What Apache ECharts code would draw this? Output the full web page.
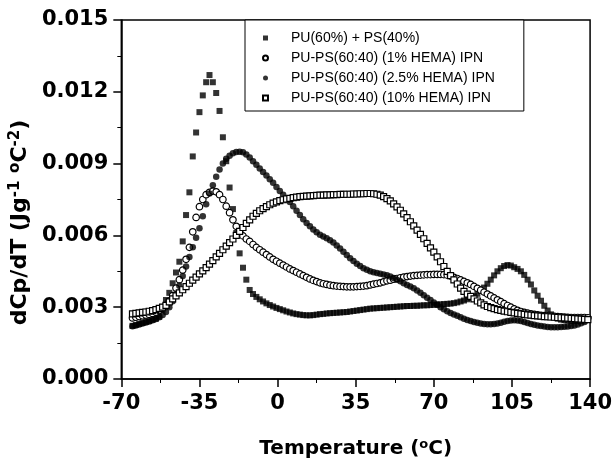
<!DOCTYPE html>
<html>
<head>
<meta charset="utf-8">
<script src="https://cdn.jsdelivr.net/npm/echarts@6/dist/echarts.min.js"></script>
<style>
  html, body { margin: 0; padding: 0; background: #fff; }
  #chart { width: 615px; height: 465px; }
</style>
</head>
<body>
<div id="chart"></div>
<script>
// temperature (oC), shared by all series
var temps = [
  -65, -63.5, -62, -60.5, -59, -57.5, -56, -54.5, -53, -51.5,
  -50, -48.5, -47, -45.5, -44, -42.5, -41, -39.5, -38, -36.5,
  -35, -33.5, -32, -30.5, -29, -27.5, -26, -24.5, -23, -21.5,
  -20, -18.5, -17, -15.5, -14, -12.5, -11, -9.5, -8, -6.5,
  -5, -3.5, -2, -0.5, 1, 2.5, 4, 5.5, 7, 8.5,
  10, 11.5, 13, 14.5, 16, 17.5, 19, 20.5, 22, 23.5,
  25, 26.5, 28, 29.5, 31, 32.5, 34, 35.5, 37, 38.5,
  40, 41.5, 43, 44.5, 46, 47.5, 49, 50.5, 52, 53.5,
  55, 56.5, 58, 59.5, 61, 62.5, 64, 65.5, 67, 68.5,
  70, 71.5, 73, 74.5, 76, 77.5, 79, 80.5, 82, 83.5,
  85, 86.5, 88, 89.5, 91, 92.5, 94, 95.5, 97, 98.5,
  100, 101.5, 103, 104.5, 106, 107.5, 109, 110.5, 112, 113.5,
  115, 116.5, 118, 119.5, 121, 122.5, 124, 125.5, 127, 128.5,
  130, 131.5, 133, 134.5, 136, 137.5, 139
]

// dCp/dT values in units of 1e-3 J g-1 oC-2
var puPs = [
  2.22, 2.26, 2.30, 2.34, 2.38, 2.42, 2.47, 2.52, 2.60, 2.90,
  3.30, 3.60, 4.00, 4.45, 4.90, 5.75, 6.85, 7.80, 9.30, 10.3,
  11.15, 11.85, 12.4, 12.7, 12.4, 11.95, 11.2, 10.1, 9.1, 8.0,
  7.1, 6.1, 5.25, 4.65, 4.15, 3.72, 3.55, 3.43, 3.33, 3.24,
  3.16, 3.09, 3.03, 2.97, 2.92, 2.87, 2.82, 2.78, 2.74, 2.71,
  2.69, 2.67, 2.66, 2.66, 2.67, 2.69, 2.71, 2.72, 2.74, 2.75,
  2.76, 2.77, 2.78, 2.79, 2.80, 2.82, 2.84, 2.86, 2.88, 2.90,
  2.92, 2.94, 2.95, 2.96, 2.97, 2.98, 2.99, 3.00, 3.01, 3.02,
  3.03, 3.04, 3.05, 3.05, 3.06, 3.06, 3.07, 3.08, 3.08, 3.09,
  3.10, 3.11, 3.12, 3.13, 3.14, 3.15, 3.17, 3.20, 3.24, 3.28,
  3.33, 3.39, 3.46, 3.56, 3.68, 3.82, 3.98, 4.15, 4.33, 4.50,
  4.63, 4.72, 4.76, 4.74, 4.67, 4.60, 4.50, 4.35, 4.15, 3.95,
  3.70, 3.48, 3.27, 3.06, 2.86, 2.70, 2.58, 2.52, 2.48, 2.46,
  2.44, 2.43, 2.42, 2.42, 2.43, 2.45
]
var hema1 = [
  2.55, 2.58, 2.61, 2.64, 2.67, 2.70, 2.74, 2.79, 2.86, 2.95,
  3.08, 3.25, 3.48, 3.80, 4.15, 4.55, 5.00, 5.50, 6.15, 6.75,
  7.20, 7.50, 7.70, 7.80, 7.85, 7.82, 7.70, 7.50, 7.22, 6.95,
  6.65, 6.38, 6.15, 5.98, 5.85, 5.75, 5.62, 5.50, 5.40, 5.30,
  5.20, 5.10, 5.00, 4.92, 4.84, 4.76, 4.68, 4.60, 4.53, 4.46,
  4.39, 4.32, 4.25, 4.18, 4.12, 4.07, 4.02, 3.98, 3.95, 3.92,
  3.90, 3.88, 3.87, 3.86, 3.85, 3.85, 3.85, 3.86, 3.87, 3.88,
  3.90, 3.93, 3.96, 3.99, 4.02, 4.06, 4.10, 4.13, 4.17, 4.20,
  4.23, 4.26, 4.28, 4.30, 4.32, 4.33, 4.34, 4.35, 4.36, 4.36,
  4.37, 4.37, 4.37, 4.36, 4.34, 4.30, 4.25, 4.20, 4.14, 4.08,
  4.02, 3.95, 3.87, 3.79, 3.71, 3.63, 3.55, 3.47, 3.39, 3.31,
  3.23, 3.15, 3.07, 3.00, 2.93, 2.87, 2.82, 2.78, 2.75, 2.72,
  2.70, 2.68, 2.66, 2.65, 2.64, 2.63, 2.62, 2.61, 2.60, 2.59,
  2.58, 2.57, 2.57, 2.57, 2.57, 2.57, 2.56
]
var hema25 = [
  2.20, 2.24, 2.28, 2.32, 2.36, 2.40, 2.45, 2.51, 2.58, 2.67,
  2.80, 3.00, 3.25, 3.55, 3.90, 4.30, 4.70, 5.10, 5.50, 5.90,
  6.30, 6.80, 7.30, 7.75, 8.10, 8.45, 8.75, 9.00, 9.20, 9.33,
  9.43, 9.48, 9.50, 9.47, 9.38, 9.25, 9.10, 8.95, 8.80, 8.65,
  8.50, 8.35, 8.20, 8.02, 7.85, 7.70, 7.55, 7.40, 7.22, 7.03,
  6.85, 6.67, 6.52, 6.38, 6.25, 6.13, 6.03, 5.95, 5.88, 5.80,
  5.70, 5.58, 5.45, 5.32, 5.18, 5.05, 4.93, 4.82, 4.72, 4.63,
  4.56, 4.50, 4.46, 4.43, 4.40, 4.37, 4.33, 4.28, 4.22, 4.15,
  4.08, 4.00, 3.93, 3.86, 3.79, 3.70, 3.60, 3.50, 3.40, 3.30,
  3.20, 3.10, 3.00, 2.91, 2.83, 2.76, 2.70, 2.64, 2.58, 2.52,
  2.47, 2.42, 2.38, 2.35, 2.32, 2.30, 2.29, 2.29, 2.30, 2.32,
  2.35, 2.39, 2.42, 2.44, 2.45, 2.44, 2.42, 2.38, 2.34, 2.30,
  2.27, 2.24, 2.21, 2.19, 2.17, 2.16, 2.16, 2.16, 2.17, 2.18,
  2.19, 2.21, 2.24, 2.28, 2.33, 2.38
]
var hema10 = [
  2.72, 2.74, 2.76, 2.78, 2.80, 2.83, 2.86, 2.90, 2.95, 3.00,
  3.08, 3.22, 3.35, 3.47, 3.60, 3.73, 3.86, 4.00, 4.13, 4.26,
  4.39, 4.52, 4.65, 4.80, 4.95, 5.10, 5.25, 5.40, 5.55, 5.70,
  5.85, 6.00, 6.17, 6.33, 6.50, 6.65, 6.80, 6.92, 7.03, 7.12,
  7.20, 7.28, 7.35, 7.40, 7.45, 7.49, 7.52, 7.55, 7.58, 7.60,
  7.62, 7.63, 7.64, 7.65, 7.66, 7.67, 7.68, 7.68, 7.69, 7.69,
  7.70, 7.70, 7.71, 7.71, 7.72, 7.72, 7.73, 7.73, 7.74, 7.74,
  7.75, 7.75, 7.74, 7.72, 7.68, 7.62, 7.54, 7.44, 7.32, 7.19,
  7.05, 6.90, 6.74, 6.57, 6.40, 6.22, 6.04, 5.86, 5.67, 5.48,
  5.30, 5.10, 4.90, 4.70, 4.50, 4.32, 4.14, 3.97, 3.80, 3.66,
  3.55, 3.45, 3.35, 3.26, 3.18, 3.10, 3.03, 2.98, 2.94, 2.90,
  2.87, 2.84, 2.81, 2.78, 2.76, 2.74, 2.72, 2.70, 2.68, 2.67,
  2.65, 2.64, 2.63, 2.61, 2.60, 2.59, 2.58, 2.57, 2.56, 2.55,
  2.54, 2.53, 2.52, 2.51, 2.50, 2.49, 2.48
]

var names = [
  'PU(60%) + PS(40%)',
  'PU-PS(60:40) (1% HEMA) IPN',
  'PU-PS(60:40) (2.5% HEMA) IPN',
  'PU-PS(60:40) (10% HEMA) IPN'
]

function pairs(vals) {
  return vals.map(function (v, i) { return [temps[i], v] })
}

var square = 'path://M0,0L10,0L10,10L0,10Z'
var tickFont = 'DejaVu Sans'
var chart = echarts.init(document.getElementById('chart'))

var option = {
  animation: false,
  backgroundColor: '#fff',
  grid: {
    left: 121, right: 23, top: 20, bottom: 86,
    show: true, borderColor: '#000', borderWidth: 1.5
  },
  legend: {
    orient: 'vertical',
    left: 245, top: 20,
    padding: [11, 29, 6, 17],
    itemGap: 6,
    itemWidth: 5, itemHeight: 5,
    borderColor: '#000', borderWidth: 1,
    backgroundColor: '#fff',
    textStyle: { fontFamily: 'Liberation Sans', fontSize: 14, color: '#000', padding: [0, 0, 0, 18] },
    data: names
  },
  xAxis: {
    type: 'value',
    min: -70, max: 140, interval: 35,
    name: 'Temperature ({s|o}C)',
    nameLocation: 'middle',
    nameGap: 59,
    nameTextStyle: {
      fontFamily: tickFont, fontSize: 20, fontWeight: 'bold', color: '#000',
      rich: { s: { fontFamily: tickFont, fontSize: 13, fontWeight: 'bold', verticalAlign: 'top', padding: [0, 0, 9, 0] } }
    },
    axisLine: { onZero: false, lineStyle: { color: '#000', width: 1.5 } },
    axisTick: { inside: false, length: 8, lineStyle: { color: '#000', width: 1.5 } },
    minorTick: { show: true, splitNumber: 2, length: 4, lineStyle: { color: '#000', width: 1 } },
    splitLine: { show: false },
    axisLabel: {
      margin: 14, color: '#000', fontFamily: tickFont, fontSize: 21, fontWeight: 'bold',
      showMinLabel: true, showMaxLabel: true
    }
  },
  yAxis: {
    type: 'value',
    min: 0, max: 15, interval: 3,
    name: 'dCp/dT (Jg{s|-1} {s|o}C{s|-2})',
    nameLocation: 'middle',
    nameGap: 80,
    nameRotate: 90,
    nameTextStyle: {
      fontFamily: tickFont, fontSize: 22, fontWeight: 'bold', color: '#000',
      padding: [0, 46, 0, 0],
      rich: { s: { fontFamily: tickFont, fontSize: 15, fontWeight: 'bold', verticalAlign: 'top', padding: [0, 0, 9, 0] } }
    },
    axisLine: { onZero: false, lineStyle: { color: '#000', width: 1.5 } },
    axisTick: { inside: false, length: 8, lineStyle: { color: '#000', width: 1.5 } },
    minorTick: { show: true, splitNumber: 2, length: 4, lineStyle: { color: '#000', width: 1 } },
    splitLine: { show: false },
    axisLabel: {
      margin: 13, color: '#000', fontFamily: tickFont, fontSize: 21, fontWeight: 'bold',
      showMinLabel: true, showMaxLabel: true,
      formatter: function (v) { return (v / 1000).toFixed(3) }
    }
  },
  series: [
    {
      name: names[0], type: 'scatter', symbol: square, symbolSize: 6,
      itemStyle: { color: '#000' },
      data: pairs(puPs)
    },
    {
      name: names[1], type: 'scatter', symbol: 'circle', symbolSize: 6.5,
      itemStyle: { color: '#fff', borderColor: '#000', borderWidth: 1.2, opacity: 1 },
      data: pairs(hema1)
    },
    {
      name: names[2], type: 'scatter', symbol: 'circle', symbolSize: 6.5,
      itemStyle: { color: '#000' },
      data: pairs(hema25)
    },
    {
      name: names[3], type: 'scatter', symbol: square, symbolSize: 6,
      itemStyle: { color: '#fff', borderColor: '#000', borderWidth: 1.2, opacity: 1 },
      data: pairs(hema10)
    }
  ]
}
chart.setOption(option)
window.addEventListener('resize', function () {
  chart.resize()
})
</script>
</body>
</html>
